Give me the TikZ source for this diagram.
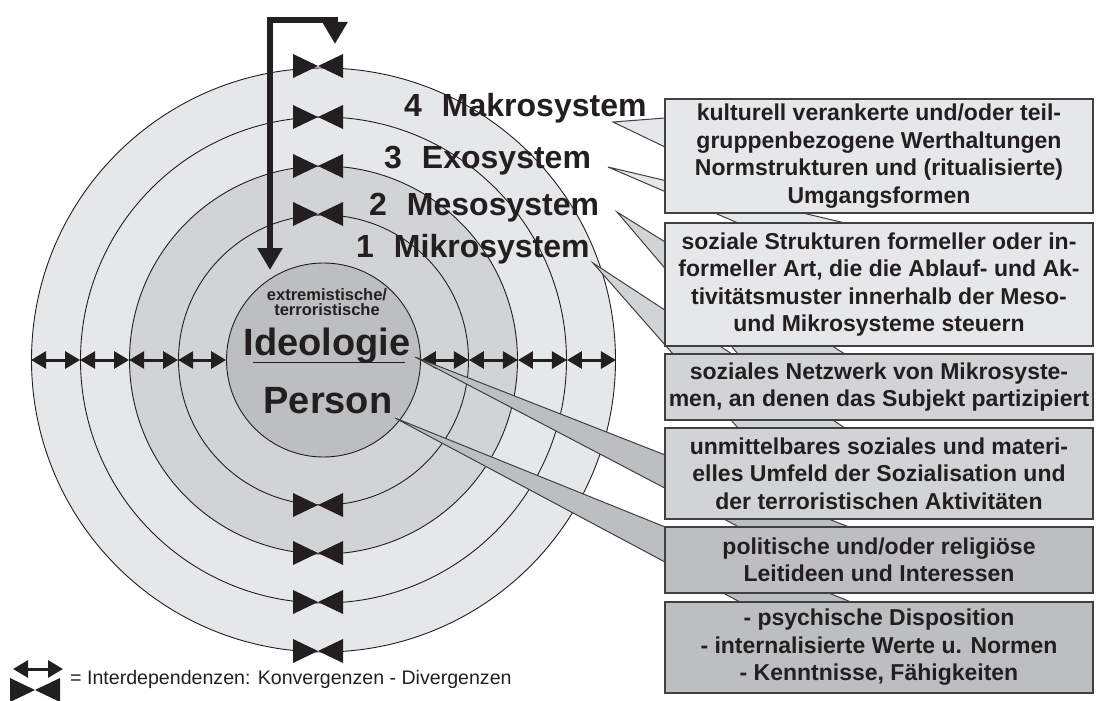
\documentclass[tikz,border=0pt]{standalone}
\usepackage{fontspec}
\setmainfont{Liberation Sans}
\usetikzlibrary{arrows.meta,calc}
\definecolor{lightg}{RGB}{230,231,232}
\definecolor{midg}{RGB}{209,211,212}
\definecolor{darkg}{RGB}{188,190,192}
\definecolor{ink}{RGB}{35,31,32}
\definecolor{edge}{RGB}{64,64,65}
\begin{document}
\begin{tikzpicture}[x=1pt,y=-1pt,
  ring/.style={circle,draw=ink,line width=0.9pt,inner sep=0pt},
  dbl/.style={ink,line width=3pt,{Triangle[length=15pt,width=17pt]}-{Triangle[length=15pt,width=17pt]}},
  bigarrow/.style={ink,line width=6pt,line join=miter,{Triangle[length=22pt,width=24pt]}-{Triangle[length=22pt,width=24pt]}},
  box/.style={draw=edge,line width=1.3pt,minimum width=428pt,inner sep=0pt,align=center,text=ink,font=\fontsize{23}{27.5}\selectfont\bfseries},
  wedge/.style={draw=edge,line width=1pt,line join=miter},
  lbl/.style={anchor=base west,inner sep=0pt,text=ink,font=\fontsize{32}{36}\selectfont\bfseries},
  big/.style={anchor=base,inner sep=0pt,text=ink,font=\fontsize{38}{40}\selectfont\bfseries},
  small/.style={anchor=south,inner sep=0pt,align=center,text=ink,font=\fontsize{16.5}{15}\selectfont\bfseries},
  legend/.style={anchor=base west,inner sep=0pt,text=ink,font=\fontsize{19.6}{22}\selectfont},
  bowtie/.pic={\fill[ink] (-25,-12) -- (0,0) -- (-25,12) -- cycle (25,-12) -- (0,0) -- (25,12) -- cycle;}
]
\useasboundingbox (0,0) rectangle (1096,701);
% circles
\coordinate (C) at (323.5,360);
\node[ring,fill=lightg,minimum size=584pt] (r5) at (C) {};
\node[ring,fill=lightg,minimum size=486pt] (r4) at (C) {};
\node[ring,fill=midg,minimum size=388pt] (r3) at (C) {};
\node[ring,fill=midg,minimum size=290pt] (r2) at (C) {};
\node[ring,fill=darkg,minimum size=194pt] (r1) at (C) {};
% horizontal interdependencies
\draw[dbl] (r5.west) -- (r4.west);
\draw[dbl] (r4.west) -- (r3.west);
\draw[dbl] (r3.west) -- (r2.west);
\draw[dbl] (r2.west) -- (r1.west);
\draw[dbl] (r1.east) -- (r2.east);
\draw[dbl] (r2.east) -- (r3.east);
\draw[dbl] (r3.east) -- (r4.east);
\draw[dbl] (r4.east) -- (r5.east);
% bowties
\pic at (318,66) {bowtie};
\pic at (318,117) {bowtie};
\pic at (318,166) {bowtie};
\pic at (318,214) {bowtie};
\pic at (318,505) {bowtie};
\pic at (318,553) {bowtie};
\pic at (318,602) {bowtie};
\pic at (318,651) {bowtie};
% bent arrow
\coordinate (a1) at (335,44);
\coordinate (a2) at (270,270);
\draw[bigarrow] (a1) -- (335,20) -- (270,20) -- (a2);
% labels
\node[lbl] (makro) at (404,117) {4\hspace{20pt}Makrosystem};
\node[lbl] (exo) at (384,168) {3\hspace{20pt}Exosystem};
\node[lbl] (meso) at (369,215) {2\hspace{20pt}Mesosystem};
\node[lbl] (mikro) at (356,257) {1\hspace{20pt}Mikrosystem};
\node[small] (ext) at (327,316) {extremistische/\\terroristische};
\node[big] (ideo) at (327,355) {Ideologie};
\coordinate (u1) at (253,362);
\coordinate (u2) at (405,362);
\draw[ink,line width=1pt] (u1) -- (u2);
\node[big] (pers) at (328,413) {Person};
% pointer tips
\coordinate (t1) at (613,122);
\coordinate (t2) at (608,167);
\coordinate (t3) at (617,212);
\coordinate (t4) at (593,263);
\coordinate (t5) at (415,357);
\coordinate (t6) at (395,418);
% box 6
\coordinate (p6a) at (740,602); \coordinate (p6b) at (851,602);
\filldraw[wedge,fill=darkg] (t6) -- ($(t6)!1.06!(p6a)$) -- ($(t6)!1.06!(p6b)$) -- cycle;
\node[box,fill=darkg,minimum height=91pt] (b6) at (879,647.5) {- psychische Disposition\\- internalisierte Werte u. Normen\\- Kenntnisse, Fähigkeiten};
% box 5
\coordinate (p5a) at (739,527); \coordinate (p5b) at (849,527);
\filldraw[wedge,fill=darkg] (t5) -- ($(t5)!1.06!(p5a)$) -- ($(t5)!1.06!(p5b)$) -- cycle;
\node[box,fill=darkg,minimum height=66pt] (b5) at (879,560) {politische und/oder religiöse\\Leitideen und Interessen};
% box 4
\coordinate (p4a) at (738,428); \coordinate (p4b) at (845,428);
\filldraw[wedge,fill=midg] (t4) -- ($(t4)!1.06!(p4a)$) -- ($(t4)!1.06!(p4b)$) -- cycle;
\node[box,fill=midg,minimum height=91pt] (b4) at (879,473.5) {unmittelbares soziales und materi-\\elles Umfeld der Sozialisation und\\der terroristischen Aktivitäten};
% box 3
\coordinate (p3a) at (738,354); \coordinate (p3b) at (845,354);
\filldraw[wedge,fill=midg] (t3) -- ($(t3)!1.06!(p3a)$) -- ($(t3)!1.06!(p3b)$) -- cycle;
\node[box,fill=midg,minimum height=66pt] (b3) at (879,387) {soziales Netzwerk von Mikrosyste-\\men, an denen das Subjekt partizipiert};
% box 2
\coordinate (p2a) at (738,223); \coordinate (p2b) at (845,223);
\filldraw[wedge,fill=lightg] (t2) -- ($(t2)!1.06!(p2a)$) -- ($(t2)!1.06!(p2b)$) -- cycle;
\node[box,fill=lightg,minimum height=123pt] (b2) at (879,284.5) {soziale Strukturen formeller oder in-\\formeller Art, die die Ablauf- und Ak-\\tivitätsmuster innerhalb der Meso-\\und Mikrosysteme steuern};
% box 1
\coordinate (p1a) at (665,118); \coordinate (p1b) at (665,147);
\filldraw[wedge,fill=lightg] (t1) -- ($(t1)!1.6!(p1a)$) -- ($(t1)!1.6!(p1b)$) -- cycle;
\node[box,fill=lightg,minimum height=114pt] (b1) at (879,156) {kulturell verankerte und/oder teil-\\gruppenbezogene Werthaltungen\\Normstrukturen und (ritualisierte)\\Umgangsformen};
% legend
\coordinate (l1) at (13,669);
\coordinate (l2) at (63,669);
\draw[dbl] (l1) -- (l2);
\pic at (35,690) {bowtie};
\node[legend] (leg) at (70,684) {= Interdependenzen: Konvergenzen - Divergenzen};
\end{tikzpicture}
\end{document}
